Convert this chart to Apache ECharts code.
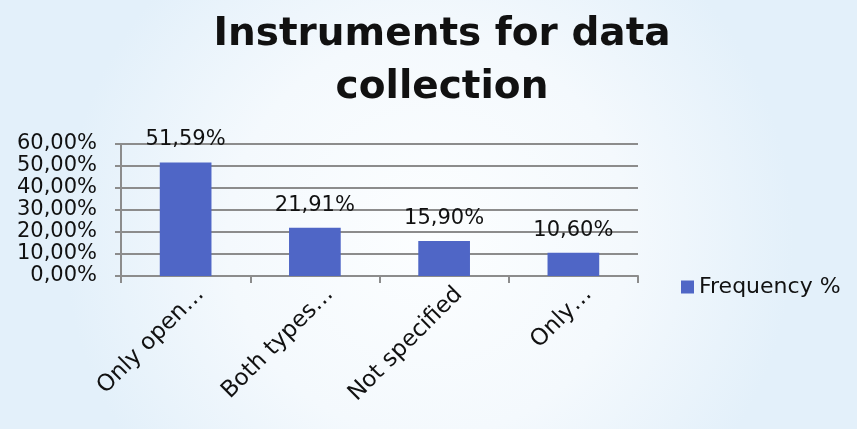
<!DOCTYPE html>
<html>
<head>
<meta charset="utf-8">
<script src="https://cdn.jsdelivr.net/npm/echarts@6/dist/echarts.min.js"></script>
<style>
    html, body { margin: 0; padding: 0; }
    #chart { width: 857px; height: 429px; }
</style>
</head>
<body>
<div id="chart"></div>
<script>
var categories = ['Only open\u2026', 'Both types\u2026', 'Not specified', 'Only\u2026'];
var frequency = [51.59, 21.91, 15.90, 10.60];
var yTicks = [0, 10, 20, 30, 40, 50, 60];

function pct(v) {
    return v.toFixed(2).replace('.', ',') + '%';
}

var font = 'DejaVu Sans';
var myChart = echarts.init(document.getElementById('chart'));
var option = {
    backgroundColor: {
        type: 'radial', x: 0.5, y: 0.55, r: 0.85,
        colorStops: [
            { offset: 0, color: '#fcfeff' },
            { offset: 0.55, color: '#f4f9fd' },
            { offset: 1, color: '#e3f0fa' }
        ]
    },
    animation: false,
    title: {
        text: 'Instruments for data\ncollection',
        left: 437,
        textAlign: 'center',
        top: 3,
        textStyle: {
            fontFamily: font,
            fontWeight: 'bold',
            fontSize: 39,
            lineHeight: 53,
            color: '#111'
        }
    },
    legend: {
        data: ['Frequency %'],
        left: 676,
        top: 271,
        icon: 'rect',
        itemWidth: 13,
        itemHeight: 13,
        itemGap: 6,
        textStyle: { fontFamily: font, fontSize: 22, color: '#111' }
    },
    grid: { left: 121, right: 219, top: 144, bottom: 153 },
    xAxis: {
        type: 'category',
        data: categories,
        axisLine: { lineStyle: { color: '#8c8c8c', width: 2 } },
        axisTick: { show: true, length: 7, lineStyle: { color: '#8c8c8c', width: 2 } },
        axisLabel: {
            rotate: 45,
            interval: 0,
            margin: 0,
            verticalAlign: 'top',
            lineHeight: 42,
            fontFamily: font,
            fontSize: 23,
            color: '#111'
        }
    },
    yAxis: {
        type: 'value',
        min: yTicks[0],
        max: yTicks[yTicks.length - 1],
        interval: 10,
        axisLine: { show: true, lineStyle: { color: '#8c8c8c', width: 2 } },
        axisTick: { show: true, length: 6, lineStyle: { color: '#8c8c8c', width: 2 } },
        splitLine: { lineStyle: { color: '#8c8c8c', width: 2 } },
        axisLabel: {
            margin: 24,
            fontFamily: font,
            fontSize: 21,
            color: '#111',
            formatter: function (v) { return pct(v); }
        }
    },
    series: [{
        name: 'Frequency %',
        type: 'bar',
        data: frequency,
        barWidth: '40%',
        itemStyle: { color: '#4f66c6' },
        label: {
            show: true,
            position: 'top',
            distance: 12,
            fontFamily: font,
            fontSize: 21,
            color: '#111',
            formatter: function (p) { return pct(p.value); }
        }
    }]
};
myChart.setOption(option, true);
</script>
</body>
</html>
